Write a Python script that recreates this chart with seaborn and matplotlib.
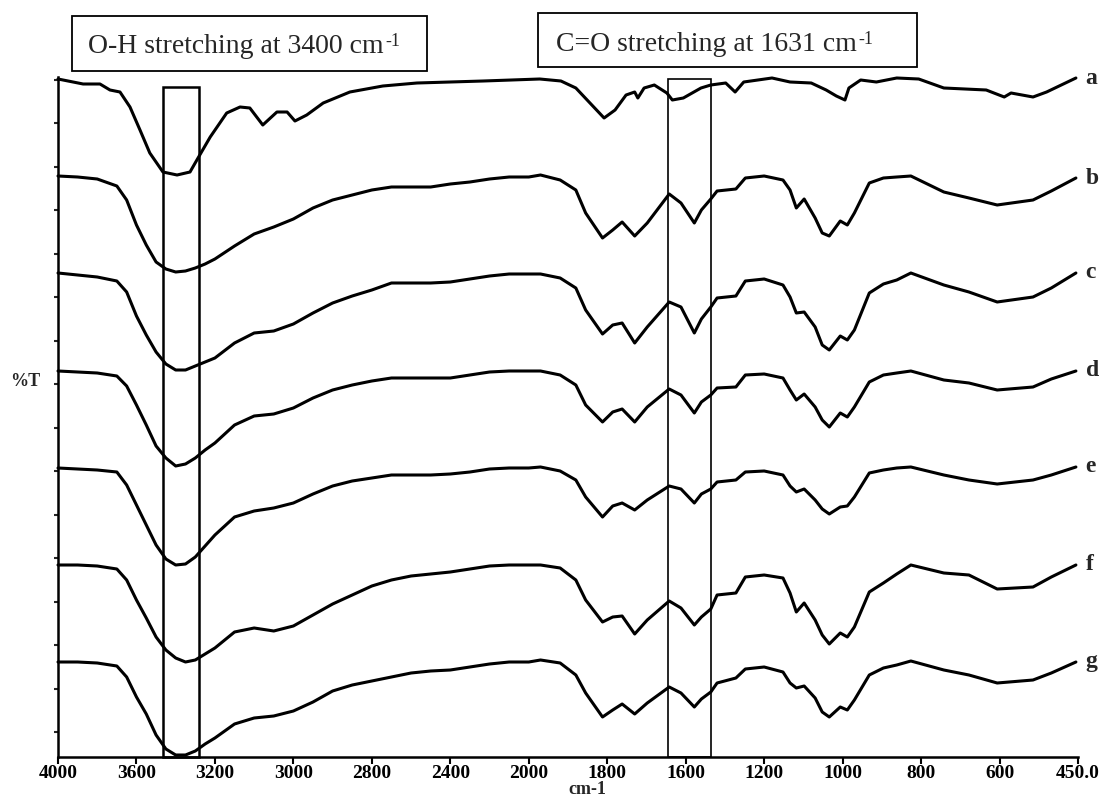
import numpy as np
import matplotlib
matplotlib.use("Agg")
import matplotlib.pyplot as plt
import seaborn as sns
from matplotlib.patches import Rectangle
from matplotlib.ticker import NullLocator

# shared wavenumber grid (cm-1) for spectra b-g
wavenumber = [4000, 3900, 3800, 3700, 3650, 3600, 3550, 3500, 3450, 3400,
              3350, 3300, 3250, 3200, 3150, 3100, 3050, 3000, 2950, 2900,
              2850, 2800, 2700, 2600, 2500, 2400, 2300, 2200, 2100, 2000,
              1970, 1920, 1880, 1855, 1812, 1786, 1762, 1730, 1698, 1642,
              1612, 1556, 1520, 1472, 1440, 1344, 1296, 1200, 1152, 1134,
              1118, 1098, 1070, 1052, 1034, 1006, 988, 970, 932, 896,
              862, 826, 742, 678, 606, 536, 501, 454]

# %T (stacked, arbitrary units)
spec_b = [59.4, 59.3, 59.1, 58.4, 57.0, 54.5, 52.5, 50.8, 50.1, 49.8,
          49.9, 50.2, 50.6, 51.1, 52.4, 53.6, 54.3, 55.1, 56.2, 57.0,
          57.5, 58.0, 58.3, 58.3, 58.3, 58.6, 58.8, 59.1, 59.3, 59.3,
          59.5, 59.0, 58.0, 55.7, 53.2, 54.0, 54.8, 53.4, 54.7, 57.6,
          56.7, 54.7, 56.0, 57.1, 57.9, 58.1, 59.2, 59.4, 59.0, 58.0,
          56.2, 57.1, 55.2, 53.7, 53.4, 54.9, 54.5, 55.7, 58.7, 59.2,
          59.3, 59.4, 57.8, 57.2, 56.5, 57.0, 57.9, 59.2]
spec_c = [49.7, 49.5, 49.3, 48.9, 47.8, 45.4, 43.5, 41.8, 40.6, 40.0,
          40.0, 40.4, 40.8, 41.2, 42.7, 43.7, 43.9, 44.6, 45.7, 46.7,
          47.4, 48.0, 48.7, 48.7, 48.7, 48.8, 49.1, 49.4, 49.6, 49.6,
          49.6, 49.2, 48.2, 46.0, 43.6, 44.5, 44.7, 42.7, 44.3, 46.8,
          46.3, 43.7, 45.1, 46.3, 47.2, 47.4, 48.9, 49.1, 48.5, 47.3,
          45.7, 45.8, 44.3, 42.5, 42.0, 43.4, 43.0, 44.0, 47.7, 48.6,
          49.0, 49.7, 48.5, 47.8, 46.8, 47.3, 48.2, 49.7]
spec_d = [39.9, 39.8, 39.7, 39.4, 38.4, 36.5, 34.5, 32.4, 31.2, 30.4,
          30.6, 31.2, 32.0, 32.7, 34.5, 35.4, 35.6, 36.2, 37.2, 38.0,
          38.5, 38.9, 39.2, 39.2, 39.2, 39.2, 39.5, 39.8, 39.9, 39.9,
          39.9, 39.5, 38.5, 36.5, 34.8, 35.8, 36.1, 34.8, 36.3, 38.1,
          37.5, 35.7, 36.8, 37.5, 38.2, 38.3, 39.5, 39.6, 39.2, 38.0,
          37.0, 37.6, 36.3, 35.0, 34.3, 35.7, 35.3, 36.3, 38.8, 39.5,
          39.7, 39.9, 39.0, 38.7, 38.0, 38.3, 39.1, 39.9]
spec_e = [30.2, 30.1, 30.0, 29.8, 28.5, 26.5, 24.5, 22.5, 21.1, 20.5,
          20.6, 21.3, 22.4, 23.5, 25.3, 25.9, 26.2, 26.7, 27.6, 28.4,
          28.9, 29.2, 29.5, 29.5, 29.5, 29.6, 29.8, 30.1, 30.2, 30.2,
          30.3, 29.9, 29.0, 27.3, 25.3, 26.4, 26.7, 26.0, 27.0, 28.4,
          28.1, 26.7, 27.6, 28.1, 28.8, 29.0, 29.8, 29.9, 29.5, 28.4,
          27.8, 28.1, 27.0, 26.1, 25.6, 26.3, 26.4, 27.3, 29.7, 30.0,
          30.2, 30.3, 29.5, 29.0, 28.6, 29.0, 29.5, 30.3]
spec_f = [20.5, 20.5, 20.4, 20.1, 19.0, 17.0, 15.2, 13.3, 12.0, 11.2,
          10.8, 11.0, 11.6, 12.2, 13.8, 14.2, 13.9, 14.4, 15.5, 16.6,
          17.5, 18.4, 19.0, 19.4, 19.6, 19.8, 20.1, 20.4, 20.5, 20.5,
          20.5, 20.2, 19.0, 17.0, 14.8, 15.3, 15.4, 13.6, 15.0, 16.9,
          16.2, 14.5, 15.3, 16.1, 17.5, 17.7, 19.3, 19.5, 19.2, 17.7,
          15.8, 16.7, 15.0, 13.5, 12.6, 13.7, 13.3, 14.3, 17.8, 18.7,
          19.6, 20.5, 19.7, 19.5, 18.1, 18.3, 19.3, 20.5]
spec_g = [10.8, 10.8, 10.7, 10.4, 9.3, 7.3, 5.6, 3.5, 2.1, 1.5,
          1.5, 1.9, 2.6, 3.2, 4.6, 5.2, 5.4, 5.9, 6.8, 7.9,
          8.5, 8.9, 9.3, 9.7, 9.9, 10.0, 10.3, 10.6, 10.8, 10.8,
          11.0, 10.7, 9.5, 7.7, 5.3, 6.0, 6.6, 5.6, 6.7, 8.3,
          7.7, 6.3, 7.1, 7.8, 8.7, 9.2, 10.1, 10.3, 9.8, 8.7,
          8.2, 8.4, 7.2, 5.8, 5.3, 6.3, 6.0, 7.0, 9.5, 10.2,
          10.5, 10.9, 10.0, 9.5, 8.7, 9.0, 9.7, 10.8]

# spectrum a has its own features
wavenumber_a = [4000, 3872, 3786, 3735, 3684, 3633, 3582, 3532, 3465, 3393,
                3327, 3292, 3224, 3170, 3136, 3111, 3078, 3042, 3016, 2996,
                2966, 2924, 2856, 2744, 2570, 2232, 1972, 1918, 1880, 1844,
                1808, 1780, 1752, 1730, 1722, 1706, 1680, 1648, 1634, 1606,
                1522, 1472, 1396, 1348, 1304, 1180, 1134, 1080, 1042, 1016,
                994, 984, 954, 914, 862, 806, 742, 634, 591, 578,
                536, 510, 454]
spec_a = [69.1, 68.6, 68.6, 68.0, 67.8, 66.3, 64.0, 61.7, 59.8, 59.5,
          59.8, 61.0, 63.3, 65.7, 66.3, 66.2, 64.5, 65.8, 65.8, 64.9,
          65.5, 66.7, 67.8, 68.4, 68.7, 68.9, 69.1, 68.9, 68.2, 66.7,
          65.2, 66.0, 67.5, 67.8, 67.2, 68.2, 68.5, 67.7, 67.0, 67.2,
          68.2, 68.5, 68.7, 67.8, 68.8, 69.2, 68.8, 68.7, 68.0, 67.4,
          67.0, 68.2, 69.0, 68.8, 69.2, 69.1, 68.2, 68.0, 67.3, 67.7,
          67.3, 67.8, 69.2]

labels = ["a", "b", "c", "d", "e", "f", "g"]
tick_values = [4000, 3600, 3200, 3000, 2800, 2400, 2000, 1800, 1600, 1200, 1000, 800, 600, 450]
tick_labels = ["4000", "3600", "3200", "3000", "2800", "2400", "2000",
               "1800", "1600", "1200", "1000", "800", "600", "450.0"]
oh_band = (3465, 3281)
co_band = (1645, 1471)

sns.set_style("white")
plt.rcParams["font.family"] = ["Liberation Serif", "DejaVu Serif"]

fig = plt.figure(figsize=(11.06, 8.0), dpi=100)
ax = fig.add_axes([58 / 1106, 43 / 800, 1020 / 1106, 680 / 800])

# the instrument axis is piecewise: equal spacing between the labelled ticks
scale_x = [0] + tick_values[::-1] + [10000]
scale_pos = [-16] + [-p for p in range(13, -1, -1)] + [15]


def fwd(x):
    return np.interp(np.asarray(x, dtype=float), scale_x, scale_pos)


def inv(y):
    return np.interp(np.asarray(y, dtype=float), scale_pos, scale_x)


ax.set_xscale("function", functions=(fwd, inv))

series = [(wavenumber_a, spec_a), (wavenumber, spec_b), (wavenumber, spec_c),
          (wavenumber, spec_d), (wavenumber, spec_e), (wavenumber, spec_f),
          (wavenumber, spec_g)]
for name, (wn, vals) in zip(labels, series):
    sns.lineplot(x=wn, y=vals, ax=ax, color="black", linewidth=2.2, sort=False)
    ax.lines[-1].set_clip_on(False)
    ax.lines[-1].set_solid_joinstyle("round")
    ax.lines[-1].set_solid_capstyle("round")
    ax.annotate(name, xy=(wn[-1], vals[-1]), xytext=(7, 0), textcoords="offset points",
                ha="left", va="center", fontsize=17, fontweight="bold",
                annotation_clip=False)

ax.set_xlim(4000, 450)
ax.set_ylim(1.3, 69.3)

# highlighted bands
ax.add_patch(Rectangle((oh_band[0], 1.3), oh_band[1] - oh_band[0], 68.3 - 1.3,
                       fill=False, ec="black", lw=1.8, clip_on=False))
ax.add_patch(Rectangle((co_band[0], 1.3), co_band[1] - co_band[0], 69.1 - 1.3,
                       fill=False, ec="black", lw=1.2, clip_on=False))

ax.set_xticks(tick_values)
ax.set_xticklabels(tick_labels)
ax.xaxis.set_minor_locator(NullLocator())
ax.set_yticks(np.linspace(3.8, 69.05, 16))
ax.set_yticklabels([])
ax.tick_params(axis="x", direction="out", length=5, width=1.5, labelsize=14, pad=1,
               bottom=True, colors="black")
ax.tick_params(axis="y", direction="out", length=3, width=1.5, left=True)
for lbl in ax.get_xticklabels():
    lbl.set_fontweight("bold")
ax.set_xlabel("")
ax.set_ylabel("")

for side in ["top", "right"]:
    ax.spines[side].set_visible(False)
for side in ["left", "bottom"]:
    ax.spines[side].set_linewidth(1.8)
    ax.spines[side].set_color("black")

# annotation boxes above the plot
fig.add_artist(Rectangle((72 / 1106, 1 - 71 / 800), 355 / 1106, 55 / 800,
                         transform=fig.transFigure, fill=False, ec="black", lw=1.3))
fig.add_artist(Rectangle((538 / 1106, 1 - 67 / 800), 379 / 1106, 54 / 800,
                         transform=fig.transFigure, fill=False, ec="black", lw=1.3))
t1 = fig.text(88 / 1106, 1 - 53 / 800, "O-H stretching at 3400 cm", fontsize=20, va="baseline")
t2 = fig.text(556 / 1106, 1 - 51 / 800, "C=O stretching at 1631 cm", fontsize=20, va="baseline")
for t in (t1, t2):
    ax.annotate("-1", xy=(1, 1), xycoords=t, xytext=(1, 1), textcoords="offset points",
                ha="left", va="top", fontsize=13, annotation_clip=False)

fig.text(25 / 1106, 1 - 381 / 800, "%T", fontsize=13, fontweight="bold", ha="center", va="center")
fig.text(587 / 1106, 1 - 790 / 800, "cm-1", fontsize=13, fontweight="bold", ha="center", va="center")

fig.savefig("out.png", dpi=100)
